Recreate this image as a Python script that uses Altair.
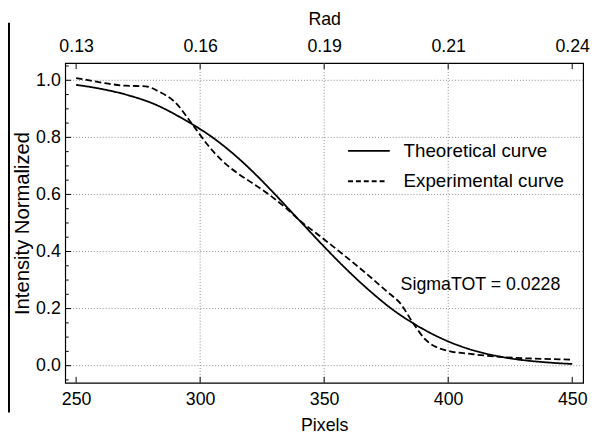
import altair as alt
import pandas as pd

# ---- data ----
series = ["Theoretical curve", "Experimental curve"]

pix_theo = [250, 260, 270, 283, 290, 296, 303, 315, 322.6, 330, 337, 341, 348, 358, 370, 378, 386, 400, 410, 422, 442, 450]
int_theo = [0.984, 0.970, 0.950, 0.911, 0.880, 0.850, 0.812, 0.730, 0.668, 0.602, 0.537, 0.500, 0.435, 0.346, 0.250, 0.194, 0.148, 0.085, 0.054, 0.030, 0.010, 0.006]

pix_exp = [250, 257, 263, 270, 278, 283, 290, 297, 303, 309, 315, 321, 328, 334.5, 340.5, 347.7, 357, 366, 375, 381, 386, 391, 396, 400, 410, 422, 442, 450]
int_exp = [1.008, 0.997, 0.988, 0.981, 0.979, 0.962, 0.922, 0.844, 0.774, 0.717, 0.675, 0.640, 0.598, 0.553, 0.506, 0.458, 0.394, 0.330, 0.262, 0.215, 0.147, 0.090, 0.062, 0.052, 0.040, 0.030, 0.023, 0.021]

x_ticks = [250, 300, 350, 400, 450]
rad_labels = ["0.13", "0.16", "0.19", "0.21", "0.24"]
x_grid = [300, 350, 400]
y_ticks = [0.0, 0.2, 0.4, 0.6, 0.8, 1.0]
y_minor = [-0.05, 0.05, 0.1, 0.15, 0.25, 0.3, 0.35, 0.45, 0.5, 0.55, 0.65, 0.7, 0.75, 0.85, 0.9, 0.95, 1.05]
annotation = "SigmaTOT = 0.0228"

# ---- layout ----
W, H = 525, 324
xdom = [245.6, 454.4]
ydom = [-0.06, 1.06]
FONT = "Liberation Sans"
GRID = "#8a8a8a"


def xs():
    return alt.Scale(domain=xdom, nice=False, zero=False)


ys = alt.Scale(domain=ydom, nice=False, zero=False)
y_axis = alt.Axis(title="Intensity Normalized", values=y_ticks, format=".1f",
                  labelPadding=5, titlePadding=3, titleFontSize=20.5)

df = pd.concat([
    pd.DataFrame({"Pixels": pix_theo, "Intensity": int_theo, "Series": series[0]}),
    pd.DataFrame({"Pixels": pix_exp, "Intensity": int_exp, "Series": series[1]}),
], ignore_index=True)

df_xt = pd.DataFrame({"Pixels": x_ticks})
df_xg = pd.DataFrame({"Pixels": x_grid})
df_yt = pd.DataFrame({"Intensity": y_ticks})
df_ym = pd.DataFrame({"Intensity": y_minor})

xgrid = alt.Chart(df_xg).mark_rule(color=GRID, strokeWidth=1, strokeDash=[1, 2]).encode(
    x=alt.X("Pixels:Q", scale=xs(), axis=None)
)
ygrid = alt.Chart(df_yt).mark_rule(color=GRID, strokeWidth=1, strokeDash=[1, 2]).encode(
    y=alt.Y("Intensity:Q", scale=ys, axis=y_axis)
)

curves = alt.Chart(df).mark_line(color="black", strokeWidth=1.8, interpolate="monotone", clip=True).encode(
    x=alt.X("Pixels:Q", scale=xs(),
            axis=alt.Axis(orient="bottom", title="Pixels", values=x_ticks, format="d",
                          labelPadding=8, titlePadding=8)),
    y=alt.Y("Intensity:Q", scale=ys, axis=y_axis),
    strokeDash=alt.StrokeDash("Series:N", scale=alt.Scale(domain=series, range=[[1, 0], [6.5, 3.2]]), legend=None),
)

label_expr = "".join(f"datum.value == {v} ? '{l}' : " for v, l in zip(x_ticks, rad_labels)) + "''"

top_ticks = alt.Chart(df_xt).mark_rule(color="black", strokeWidth=1).encode(
    x=alt.X("Pixels:Q", scale=xs(),
            axis=alt.Axis(orient="top", title="Rad", values=x_ticks, labelExpr=label_expr,
                          labelPadding=8, titlePadding=9)),
    y=alt.value(0), y2=alt.value(6),
)
bottom_ticks = alt.Chart(df_xt).mark_rule(color="black", strokeWidth=1).encode(
    x=alt.X("Pixels:Q", scale=xs(), axis=None),
    y=alt.value(H), y2=alt.value(H - 6),
)
y_major = alt.Chart(df_yt).mark_rule(color="black", strokeWidth=1).encode(
    y=alt.Y("Intensity:Q", scale=ys, axis=y_axis), x=alt.value(0), x2=alt.value(6)
)
y_minor_t = alt.Chart(df_ym).mark_rule(color="black", strokeWidth=1).encode(
    y=alt.Y("Intensity:Q", scale=ys, axis=y_axis), x=alt.value(0), x2=alt.value(3.5)
)

base = alt.Chart(pd.DataFrame({"k": [0]}))
leg1_line = base.mark_rule(color="black", strokeWidth=1.8).encode(
    x=alt.value(286.7), x2=alt.value(329), y=alt.value(89))
leg2_line = base.mark_rule(color="black", strokeWidth=1.8, strokeDash=[5, 3]).encode(
    x=alt.value(286.7), x2=alt.value(325), y=alt.value(119.7))
leg1_text = base.mark_text(align="left", baseline="middle", font=FONT, fontSize=19, color="black",
                           text=series[0]).encode(x=alt.value(343), y=alt.value(89))
leg2_text = base.mark_text(align="left", baseline="middle", font=FONT, fontSize=19, color="black",
                           text=series[1]).encode(x=alt.value(343), y=alt.value(120))
note = base.mark_text(align="left", baseline="middle", font=FONT, fontSize=18, color="black",
                      text=annotation).encode(x=alt.value(340), y=alt.value(225))

side_bar = base.mark_rect(color="black").encode(
    x=alt.value(-58), x2=alt.value(-56), y=alt.value(-41), y2=alt.value(354))

chart = alt.layer(
    xgrid, ygrid, curves, top_ticks, bottom_ticks, y_major, y_minor_t,
    leg1_line, leg2_line, leg1_text, leg2_text, note, side_bar
).resolve_scale(x="independent").properties(
    width=W, height=H,
    autosize=alt.AutoSizeParams(type="none"),
    padding={"left": 58, "top": 53, "right": 9, "bottom": 50},
    background="white",
).configure_axis(
    labelFont=FONT, titleFont=FONT, labelFontSize=18, titleFontSize=18,
    labelColor="black", titleColor="black", titleFontWeight="normal",
    ticks=False, domain=False, grid=False,
).configure_view(stroke="black", strokeWidth=1.2)

chart.save("out.html", embed_options={"renderer": "svg", "actions": False})
